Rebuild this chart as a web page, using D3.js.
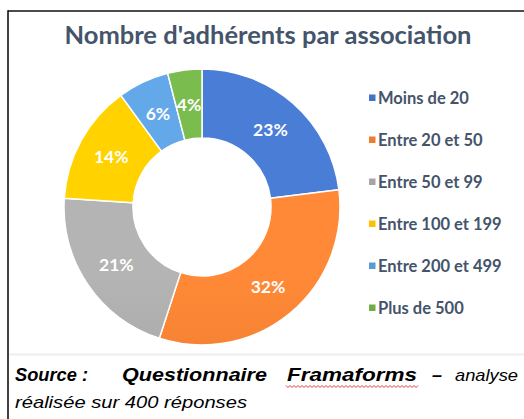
<!DOCTYPE html>
<html>
<head>
<meta charset="utf-8">
<script src="https://cdn.jsdelivr.net/npm/d3@7/dist/d3.min.js"></script>
<style>
    html, body { margin: 0; padding: 0; background: #fff; }
    svg { display: block; }
</style>
</head>
<body>
<svg width="524" height="419"></svg>
<script>
// data
const categories = ['Moins de 20', 'Entre 20 et 50', 'Entre 50 et 99', 'Entre 100 et 199', 'Entre 200 et 499', 'Plus de 500']
const shares = [23, 32, 21, 14, 6, 4]
const colors = ['#4472C4', '#ED7D31', '#A5A5A5', '#FFC000', '#5B9BD5', '#70AD47']
const title = "Nombre d'adhérents par association"

const width = 524
const height = 419
const svg = d3.select('svg')

const slices = categories.map((name, i) => ({ name, value: shares[i], color: colors[i] }))

// frame around the chart
svg.append('line').attr('x1', 8).attr('x2', width).attr('y1', 11).attr('y2', 11)
    .attr('stroke', '#111').attr('stroke-width', 1.6)
svg.append('line').attr('x1', 8).attr('x2', 8).attr('y1', 10.2).attr('y2', height)
    .attr('stroke', '#111').attr('stroke-width', 1.6)
svg.append('line').attr('x1', 9).attr('x2', width).attr('y1', 354.5).attr('y2', 354.5)
    .attr('stroke', '#eceef2').attr('stroke-width', 2)

svg.append('text')
    .attr('x', 268).attr('y', 44)
    .attr('text-anchor', 'middle')
    .attr('font-family', 'Lato, sans-serif')
    .attr('font-weight', 'bold')
    .attr('font-size', 25.5)
    .attr('fill', '#44546A')
    .text(title)

// gradients, lighter on top, darker at the bottom
const defs = svg.append('defs')
slices.forEach((d, i) => {
    const g = defs.append('linearGradient').attr('id', 'grad' + i)
        .attr('gradientUnits', 'userSpaceOnUse')
        .attr('x1', 0).attr('x2', 0).attr('y1', 68).attr('y2', 346)
    g.append('stop').attr('offset', 0).attr('stop-color', d3.color(d.color).brighter(0.25))
    g.append('stop').attr('offset', 1).attr('stop-color', d3.color(d.color).darker(0.2))
})

const cx = 202
const cy = 207
const outer = 138
const inner = 69

const pie = d3.pie().value(d => d.value).sort(null)
const arc = d3.arc().innerRadius(inner).outerRadius(outer)
const arcs = pie(slices)

const donut = svg.append('g').attr('transform', `translate(${cx},${cy})`)
donut.selectAll('path')
    .data(arcs)
    .enter().append('path')
    .attr('d', arc)
    .attr('fill', (d, i) => `url(#grad${i})`)
    .attr('stroke', '#fff')
    .attr('stroke-width', 1.5)
    .attr('stroke-linejoin', 'round')

donut.selectAll('text')
    .data(arcs)
    .enter().append('text')
    .attr('transform', d => `translate(${arc.centroid(d)})`)
    .attr('text-anchor', 'middle')
    .attr('dy', '0.36em')
    .attr('font-family', 'Lato, sans-serif')
    .attr('font-weight', 'bold')
    .attr('font-size', 17.5)
    .attr('fill', '#fff')
    .text(d => d.data.value + '%')

// legend
const legendY = d3.scalePoint().domain(categories).range([98, 308])
const legend = svg.append('g')
const rows = legend.selectAll('g')
    .data(slices)
    .enter().append('g')
    .attr('transform', d => `translate(369,${legendY(d.name)})`)
rows.append('rect')
    .attr('x', 0).attr('y', -3.5).attr('width', 6.5).attr('height', 6.5)
    .attr('fill', d => d.color)
rows.append('text')
    .attr('x', 9).attr('dy', '0.36em')
    .attr('font-family', 'Lato, sans-serif')
    .attr('font-weight', 'bold')
    .attr('font-size', 16.5)
    .attr('fill', '#44546A')
    .text(d => d.name)

// source note below the chart, words placed as in the justified original
const note = svg.append('g')
    .attr('font-family', '"Liberation Sans", Arial, sans-serif')
    .attr('font-style', 'italic')
    .attr('fill', '#000')
const noteWords = [
    { t: 'Source :', x: 15, w: 73, bold: true },
    { t: 'Questionnaire', x: 122, w: 145, bold: true },
    { t: 'Framaforms', x: 287, w: 130, bold: true },
    { t: '–', x: 432, w: 10, bold: true },
    { t: 'analyse', x: 455, w: 63, bold: false }
]
noteWords.forEach(w => {
    note.append('text')
        .attr('x', w.x).attr('y', 381)
        .attr('font-weight', w.bold ? 'bold' : 'normal')
        .attr('font-size', w.bold ? 19 : 17)
        .attr('textLength', w.w)
        .attr('lengthAdjust', 'spacingAndGlyphs')
        .text(w.t)
})
note.append('text')
    .attr('x', 15).attr('y', 408)
    .attr('font-size', 17)
    .attr('textLength', 232)
    .attr('lengthAdjust', 'spacingAndGlyphs')
    .text('réalisée sur 400 réponses')

// spell-check squiggle under Framaforms
const wave = d3.range(286, 419, 2).map((x, i) => [x, 386.5 + (i % 2 ? 1 : -1)])
svg.append('path')
    .attr('d', d3.line()(wave))
    .attr('fill', 'none')
    .attr('stroke', '#e02020')
    .attr('stroke-width', 0.9)
</script>
</body>
</html>
